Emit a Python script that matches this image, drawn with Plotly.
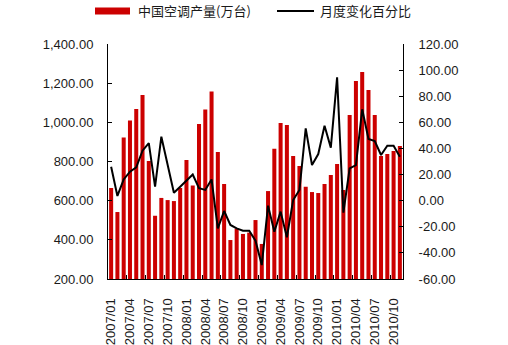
import plotly.graph_objects as go

# Monthly air-conditioner output (10k units) and monthly change (%)
months = [f"{y}/{m:02d}" for y in range(2007, 2011) for m in range(1, 13)][:47]
production = [665, 542, 922, 1009, 1068, 1140, 803, 523, 614, 603,
              598, 665, 808, 677, 991, 1065, 1157, 849, 685, 399,
              457, 430, 437, 501, 379, 649, 865, 997, 986, 828,
              777, 671, 644, 639, 685, 731, 787, 655, 1037, 1211,
              1257, 1165, 1037, 828, 838, 854, 879]
change_pct = [26, 3.6, 16.3, 22.2, 25.5, 38.3, 44, 10.7, 49, 28,
              6.1, 10.7, 15.3, 20, 9.5, 8.2, 16.3, -21.2, -7.9, -18.6,
              -21.2, -23, -23, -30.7, -49.3, -3.8, -23.8, -8.4, -28, 0.5,
              8.2, 55.4, 27.3, 35.7, 57.4, 40.6, 94.5, -9.2, 24.8, 27.3,
              70, 47.2, 45.7, 35, 42.1, 42.1, 33.7]

bar_name = "中国空调产量(万台)"
line_name = "月度变化百分比"

left_ticks = [200, 400, 600, 800, 1000, 1200, 1400]
left_labels = ["200.00", "400.00", "600.00", "800.00", "1,000.00", "1,200.00", "1,400.00"]
right_ticks = [-60, -40, -20, 0, 20, 40, 60, 80, 100, 120]
right_labels = ["-60.00", "-40.00", "-20.00", "0.00", "20.00", "40.00",
                "60.00", "80.00", "100.00", "120.00"]

x = list(range(len(months)))
label_idx = x[::3]

RED = "#CC0000"
FONT = "Liberation Sans, Arial, sans-serif"
TXT = "#1a1a1a"

fig = go.Figure()
fig.add_trace(go.Bar(x=x, y=production, name=bar_name, marker_color=RED,
                     marker_line_width=0, yaxis="y"))
fig.add_trace(go.Scatter(x=x, y=change_pct, name=line_name, mode="lines",
                         line=dict(color="black", width=2), yaxis="y2"))

# plot area in pixels: x 108..403, y 44..279
W, H = 508, 345
L, R, T, B = 108, 403, 44, 279


def px(v):
    return (v - L) / (R - L)


def py(v):
    return (B - v) / (B - T)


shapes = [
    dict(type="rect", xref="paper", yref="paper",
         x0=px(95), x1=px(130), y0=py(14.5), y1=py(7.5),
         fillcolor=RED, line_width=0),
    dict(type="line", xref="paper", yref="paper",
         x0=px(277), x1=px(314), y0=py(11), y1=py(11),
         line=dict(color="black", width=2)),
]
annotations = [
    dict(xref="paper", yref="paper", x=px(136), y=py(11), xanchor="left",
         yanchor="middle", text=bar_name, showarrow=False,
         font=dict(family="Noto Sans CJK SC", size=13, color=TXT)),
    dict(xref="paper", yref="paper", x=px(318), y=py(11), xanchor="left",
         yanchor="middle", text=line_name, showarrow=False,
         font=dict(family="Noto Sans CJK SC", size=13, color=TXT)),
]

fig.update_layout(
    width=W, height=H,
    margin=dict(l=L, r=W - R, t=T, b=H - B, pad=0),
    paper_bgcolor="white", plot_bgcolor="white",
    showlegend=False, bargap=0.36,
    font=dict(family=FONT, size=13, color=TXT),
    xaxis=dict(range=[-0.5, len(months) - 0.5], tickmode="array",
               tickvals=label_idx, ticktext=[months[i] for i in label_idx],
               tickangle=-90, ticks="", showline=True, linecolor="black",
               linewidth=1, showgrid=False, zeroline=False,
               ticklabelstandoff=13, automargin=False,
               minor=dict(tickmode="array",
                          tickvals=[i + 2.5 for i in label_idx[:-1]],
                          ticks="inside", ticklen=4, tickcolor="black",
                          showgrid=False)),
    yaxis=dict(range=[200, 1400], tickmode="array", tickvals=left_ticks,
               ticktext=left_labels, ticks="inside", ticklen=4,
               tickcolor="black", showline=True, linecolor="black",
               showgrid=False, zeroline=False, ticklabelstandoff=11,
               automargin=False),
    yaxis2=dict(range=[-60, 120], tickmode="array", tickvals=right_ticks,
                ticktext=right_labels, ticks="inside", ticklen=4,
                tickcolor="black", showline=True, linecolor="black",
                overlaying="y", side="right", showgrid=False,
                zeroline=False, ticklabelstandoff=12, automargin=False),
    shapes=shapes, annotations=annotations,
)

fig.write_html("out.html")
